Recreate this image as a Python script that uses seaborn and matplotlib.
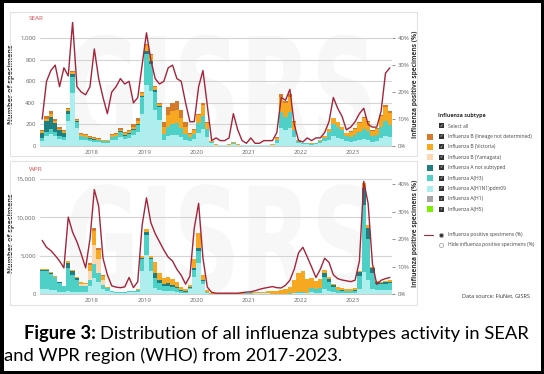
import numpy as np
import pandas as pd
import matplotlib
matplotlib.use('Agg')
import matplotlib.pyplot as plt
from matplotlib.patches import Rectangle, PathPatch
from matplotlib.lines import Line2D
from matplotlib.textpath import TextPath
from matplotlib.font_manager import FontProperties
from matplotlib.transforms import Affine2D
import seaborn as sns

# months Jan 2017 .. Sep 2023, one value per month (rows = years)
months = pd.date_range('2017-01-01', periods=81, freq='MS')

subtypes = ['Influenza B (lineage not determined)', 'Influenza B (Victoria)',
            'Influenza B (Yamagata)', 'Influenza A not subtyped', 'Influenza A(H3)',
            'Influenza A(H1N1)pdm09', 'Influenza A(H1)', 'Influenza A(H5)']
colors = ['#d37a2c', '#f6a821', '#fdd8b2', '#1d7f80', '#4fd0c6',
          '#aeeeee', '#a6a6a6', '#7cf000']

# ---- SEAR ----
sear_b_nd = [15, 25, 25, 20, 15, 15, 10, 10, 10, 12, 11, 9,
             8, 7, 6, 6, 11, 12, 17, 13, 15, 20, 26, 5,
             10, 10, 9, 8, 44, 72, 80, 84, 66, 44, 6, 8,
             15, 20, 11, 0, 0, 0, 0, 0, 0, 0, 0, 0,
             0, 0, 0, 0, 0, 0, 4, 24, 21, 24, 11, 0,
             0, 0, 0, 0, 0, 0, 0, 0, 0, 0, 0, 7,
             8, 11, 13, 12, 8, 8, 15, 19, 16]
sear_b_vic = [10, 25, 25, 20, 15, 15, 15, 20, 10, 12, 11, 9,
              8, 7, 6, 6, 11, 12, 17, 13, 15, 20, 26, 30,
              57, 50, 30, 20, 66, 108, 120, 126, 99, 66, 30, 40,
              75, 100, 55, 10, 3, 2, 2, 3, 7, 3, 2, 2,
              2, 2, 2, 2, 2, 3, 24, 144, 126, 144, 69, 12,
              6, 6, 5, 6, 12, 18, 32, 52, 44, 36, 24, 49,
              60, 77, 95, 80, 52, 60, 101, 133, 112]
sear_a_nst = [55, 100, 110, 80, 50, 35, 25, 30, 10, 6, 5, 5,
              4, 3, 3, 3, 5, 6, 9, 7, 7, 10, 13, 15,
              28, 25, 17, 12, 0, 0, 0, 0, 0, 0, 0, 0,
              0, 0, 0, 0, 0, 0, 0, 0, 0, 0, 0, 0,
              0, 0, 0, 0, 0, 0, 0, 0, 0, 0, 0, 0,
              0, 0, 0, 0, 0, 0, 0, 0, 0, 0, 0, 0,
              0, 0, 0, 0, 0, 0, 0, 0, 0]
sear_h3 = [20, 40, 50, 40, 30, 25, 70, 150, 50, 30, 28, 22,
           20, 18, 15, 15, 28, 30, 42, 32, 38, 50, 65, 150,
           285, 255, 168, 120, 55, 90, 100, 105, 83, 55, 36, 48,
           90, 120, 66, 10, 3, 2, 2, 3, 7, 3, 3, 2,
           3, 2, 2, 3, 3, 3, 24, 144, 126, 144, 70, 18,
           9, 9, 8, 9, 18, 27, 72, 117, 99, 81, 54, 49,
           60, 77, 94, 80, 52, 60, 102, 133, 112]
sear_h1n1 = [50, 90, 110, 90, 65, 60, 230, 490, 170, 60, 55, 45,
             40, 35, 30, 30, 55, 60, 85, 65, 75, 100, 130, 300,
             570, 510, 336, 240, 55, 90, 100, 105, 82, 55, 48, 64,
             120, 160, 88, 30, 9, 6, 6, 9, 21, 9, 7, 6,
             7, 6, 6, 7, 7, 9, 28, 168, 147, 168, 80, 30,
             15, 15, 12, 15, 30, 45, 56, 91, 77, 63, 42, 35,
             42, 55, 68, 58, 38, 42, 72, 95, 80]
sear_pos = [10, 24, 28, 30, 22, 29, 26, 46, 22, 20, 19, 22,
            36, 25, 18, 12, 20, 22, 25, 23, 24, 16, 18, 30,
            42, 32, 25, 23, 24, 29, 30, 25, 24, 16, 9, 9,
            22, 28, 15, 2, 3, 2, 2, 3, 12, 6, 2, 1,
            3, 1, 1, 2, 2, 2, 5, 18, 17, 21, 8, 2,
            1.5, 3, 2, 3, 3, 5, 9, 18, 14, 11, 6, 7,
            9, 12, 14, 8, 7, 7, 13, 27, 29]

# ---- WPR ----
wpr_b_nd = [0, 0, 0, 0, 0, 0, 0, 0, 0, 0, 0, 200,
            430, 300, 125, 0, 0, 0, 0, 0, 0, 0, 0, 0,
            0, 0, 0, 0, 0, 0, 0, 0, 0, 0, 0, 0,
            0, 0, 0, 0, 0, 0, 0, 0, 0, 0, 0, 0,
            0, 0, 0, 0, 0, 0, 0, 0, 0, 0, 0, 0,
            0, 0, 0, 0, 0, 0, 0, 0, 0, 0, 0, 0,
            0, 0, 0, 0, 0, 0, 0, 0, 0]
wpr_b_vic = [165, 165, 145, 120, 80, 55, 215, 155, 110, 150, 140, 800,
             1720, 1200, 500, 180, 90, 64, 60, 60, 90, 90, 120, 250,
             425, 250, 1470, 980, 735, 770, 665, 525, 315, 210, 300, 1125,
             2000, 625, 300, 90, 72, 66, 66, 66, 72, 78, 90, 108,
             120, 132, 150, 180, 210, 360, 405, 450, 540, 810, 1620, 2430,
             2700, 1710, 1230, 1020, 1140, 310, 220, 130, 315, 262, 245, 245,
             262, 150, 725, 450, 175, 170, 160, 170, 180]
wpr_b_yam = [0, 0, 0, 0, 0, 0, 0, 0, 0, 300, 280, 1200,
             2580, 1800, 750, 0, 0, 0, 0, 0, 0, 0, 0, 0,
             0, 0, 0, 0, 0, 0, 0, 0, 0, 0, 0, 0,
             0, 0, 0, 0, 0, 0, 0, 0, 0, 0, 0, 0,
             0, 0, 0, 0, 0, 0, 0, 0, 0, 0, 0, 0,
             0, 0, 0, 0, 0, 0, 0, 0, 0, 0, 0, 0,
             0, 0, 0, 0, 0, 0, 0, 0, 0]
wpr_a_nst = [165, 165, 145, 120, 80, 55, 645, 465, 330, 0, 0, 0,
             0, 0, 0, 0, 0, 0, 0, 0, 0, 0, 0, 250,
             425, 250, 630, 420, 315, 330, 285, 225, 135, 90, 60, 225,
             400, 125, 0, 0, 0, 0, 0, 0, 0, 0, 0, 0,
             0, 0, 0, 0, 0, 0, 0, 0, 0, 0, 0, 0,
             0, 0, 0, 0, 0, 620, 440, 260, 45, 38, 35, 35,
             38, 450, 2175, 1350, 525, 170, 160, 170, 180]
wpr_h3 = [2310, 2310, 2030, 1680, 1120, 770, 3010, 2170, 1540, 750, 700, 800,
          1720, 1200, 500, 270, 135, 96, 90, 90, 135, 135, 180, 1500,
          2550, 1500, 1260, 840, 630, 660, 570, 450, 270, 180, 240, 900,
          1600, 500, 50, 15, 12, 11, 11, 11, 12, 13, 15, 18,
          20, 22, 25, 30, 35, 20, 23, 25, 30, 45, 90, 135,
          150, 95, 615, 510, 570, 1550, 1100, 650, 360, 300, 280, 280,
          300, 1800, 8700, 5400, 2100, 850, 800, 850, 900]
wpr_h1n1 = [660, 660, 580, 480, 320, 220, 430, 310, 220, 300, 280, 1000,
            2150, 1500, 625, 450, 225, 160, 150, 150, 225, 225, 300, 3000,
            5100, 3000, 840, 560, 420, 440, 380, 300, 180, 120, 600, 2250,
            4000, 1250, 150, 45, 36, 33, 33, 33, 36, 39, 45, 54,
            60, 66, 75, 90, 105, 20, 22, 25, 30, 45, 90, 135,
            150, 95, 205, 170, 190, 620, 440, 260, 180, 150, 140, 140,
            150, 600, 2900, 1800, 700, 510, 480, 510, 540]
wpr_pos = [19.5, 17, 15.8, 14, 12, 9.5, 28, 22.5, 19, 14.5, 9.5, 20,
           38, 32, 13, 7, 3, 2.5, 2.3, 2.6, 6, 2.3, 4.5, 25,
           35, 26, 22, 19, 16, 13.4, 12, 9, 6.8, 3.6, 6.5, 24,
           33, 13, 2.5, 0.6, 0.3, 0.3, 0.3, 0.3, 0.3, 0.3, 0.5, 0.7,
           0.8, 1.2, 1.7, 2.1, 2.4, 2.7, 2.3, 2.2, 3.2, 5, 9, 15,
           17, 13.5, 9.8, 6, 9, 13, 11.5, 7, 5.6, 5.1, 4.8, 4.5,
           5, 12, 41, 33, 11, 3.5, 5, 5.6, 6]

line_color = '#a3243b'
palette = dict(zip(subtypes, colors))

# decimal-year position of each month (mid-month) and monthly bin edges
t = (months.year + (months.month - 0.5) / 12).values
edges = (2017 + np.arange(82) / 12).tolist()


def long_table(series):
    frames = []
    for name, vals in series.items():
        frames.append(pd.DataFrame({'t': t, 'n': vals, 'subtype': name}))
    return pd.concat(frames, ignore_index=True)


sear = long_table({subtypes[0]: sear_b_nd, subtypes[1]: sear_b_vic,
                   subtypes[3]: sear_a_nst, subtypes[4]: sear_h3,
                   subtypes[5]: sear_h1n1})
wpr = long_table({subtypes[0]: wpr_b_nd, subtypes[1]: wpr_b_vic,
                  subtypes[2]: wpr_b_yam, subtypes[3]: wpr_a_nst,
                  subtypes[4]: wpr_h3, subtypes[5]: wpr_h1n1})

W, H = 544, 374
def fx(px):
    return px / W
def fy(py):
    return 1 - py / H

sns.set_theme(style='white')
plt.rcParams['font.family'] = ['Open Sans', 'DejaVu Sans']

fig = plt.figure(figsize=(W / 100, H / 100), dpi=100)
fig.patch.set_facecolor('black')
fig.add_artist(Rectangle((fx(4), fy(371)), fx(541) - fx(4), fy(3) - fy(371),
                         transform=fig.transFigure, facecolor='white',
                         edgecolor='none', zorder=-10))
for top, bot in [(12, 156), (161, 305)]:
    fig.add_artist(Rectangle((fx(10), fy(bot)), fx(417) - fx(10), fy(top) - fy(bot),
                             transform=fig.transFigure, fill=False,
                             edgecolor='#e2e2e2', lw=0.8))

tick_font = 4.4
tick_col = '#666666'


def draw_panel(top, bot, df, pos, ymax, yticks, pmax, region):
    ax = fig.add_axes([fx(40), fy(bot), fx(392) - fx(40), fy(top) - fy(bot)])
    # very faint watermark
    tp = TextPath((0, 0), 'GISRS', size=1,
                  prop=FontProperties(family='DejaVu Sans', weight='bold'))
    ext = tp.get_extents()
    tr = (Affine2D().translate(-ext.x0, -ext.y0)
          .scale(0.86 / ext.width, 0.9 / ext.height).translate(0.08, 0.0)
          + ax.transAxes)
    ax.add_patch(PathPatch(tp, transform=tr, fc='#f7f7f7', ec='none', zorder=0))

    sns.histplot(data=df, x='t', weights='n', hue='subtype',
                 hue_order=[s for s in subtypes if s in set(df['subtype'])],
                 palette=palette, multiple='stack', bins=edges, element='step',
                 alpha=1, linewidth=0, legend=False, ax=ax, zorder=2)
    ax.set_xlim(edges[0], edges[-1])
    ax.set_ylim(0, ymax)
    ax.set_axisbelow(True)
    ax.set_yticks(yticks)
    ax.set_yticklabels([f'{v:,}' for v in yticks])
    ax.yaxis.grid(True, color='#d4d4d4', lw=0.8)
    ax.xaxis.grid(False)
    ax.set_xticks(range(2018, 2024))
    ax.set_xticklabels([str(y) for y in range(2018, 2024)])
    ax.tick_params(labelsize=tick_font, colors=tick_col, length=0, pad=3)
    for s in ['left', 'right', 'top']:
        ax.spines[s].set_visible(False)
    ax.spines['bottom'].set_color('#cccccc')
    ax.spines['bottom'].set_linewidth(0.8)
    ax.set_xlabel('')
    ax.set_ylabel('Number of specimens', fontsize=5.2, fontweight='bold', color='#333333')
    ax.yaxis.set_label_coords(-0.071, 0.5)
    ax.text(-0.031, (bot - top + 3) / (bot - top), region, transform=ax.transAxes,
            fontsize=4.6, color='#e0474c', ha='left', va='center')

    ax2 = ax.twinx()
    sns.lineplot(x=t, y=pos, ax=ax2, color=line_color, lw=1.0)
    ax2.set_ylim(0, pmax)
    ax2.set_yticks([0, 10, 20, 30, 40])
    ax2.set_yticklabels(['0%', '10%', '20%', '30%', '40%'])
    ax2.tick_params(labelsize=tick_font, colors=tick_col, length=2, width=0.5, pad=2)
    for s in ax2.spines.values():
        s.set_visible(False)
    ax2.grid(False)
    ax2.set_ylabel('Influenza positive specimens (%)', fontsize=4.8,
                   fontweight='bold', color='#333333')
    ax2.yaxis.set_label_coords(1.057, 0.5)
    return ax


draw_panel(22, 146, sear, sear_pos, 1150, [0, 200, 400, 600, 800, 1000], 46, 'SEAR')
draw_panel(172, 294, wpr, wpr_pos, 15900, [0, 5000, 10000, 15000], 44.4, 'WPR')

# ---- legend (drawn by hand to mimic the web widget) ----
leg_font = 3.6
fig.text(fx(438), fy(116), 'Influenza subtype', fontsize=3.9, fontweight='bold',
         color='#333333', va='center')


def checkbox(y):
    fig.add_artist(Rectangle((fx(439), fy(y + 2.5)), 5 / W, 5 / H, transform=fig.transFigure,
                             facecolor='#333333', edgecolor='none'))
    fig.text(fx(441.5), fy(y), '\u2713', fontsize=3, color='white',
             ha='center', va='center', family='DejaVu Sans')


checkbox(126)
fig.text(fx(448), fy(126), 'Select all', fontsize=leg_font, color='#444444', va='center')
for i, (name, col) in enumerate(zip(subtypes, colors)):
    y = 136.5 + 10.4 * i
    fig.add_artist(Rectangle((fx(427), fy(y + 3)), 6 / W, 6 / H, transform=fig.transFigure,
                             facecolor=col, edgecolor='none'))
    checkbox(y)
    fig.text(fx(448), fy(y), name, fontsize=leg_font, color='#444444', va='center')

fig.add_artist(Line2D([fx(424), fx(433)], [fy(235), fy(235)], color=line_color,
                      lw=0.8, transform=fig.transFigure))
fig.add_artist(Line2D([fx(441)], [fy(235)], marker='o', ms=3, mfc='#333333',
                      mec='#aaaaaa', mew=0.6, transform=fig.transFigure))
fig.text(fx(448), fy(235), 'Influenza positive specimens (%)', fontsize=leg_font,
         color='#444444', va='center')
fig.add_artist(Line2D([fx(441)], [fy(245)], marker='o', ms=3, mfc='white',
                      mec='#aaaaaa', mew=0.6, transform=fig.transFigure))
fig.text(fx(448), fy(245), 'Hide influenza positive specimens (%)', fontsize=leg_font,
         color='#444444', va='center')
fig.text(fx(530), fy(296), 'Data source: FluNet, GISRS', fontsize=4.0,
         color='#333333', ha='right', va='center')

# ---- caption ----
cap_font = ['Lato', 'DejaVu Sans']
cap_size = 13.2
b = fig.text(fx(24), fy(339), 'Figure 3:', fontsize=cap_size, fontweight='bold',
             family=cap_font, color='black', va='baseline')
renderer = fig.canvas.get_renderer()
bb = b.get_window_extent(renderer=renderer)
fig.text(bb.x1 / W + fx(4), fy(339),
         'Distribution of all influenza subtypes activity in SEAR',
         fontsize=cap_size, family=cap_font, color='black', va='baseline')
fig.text(fx(4.5), fy(361), 'and WPR region (WHO) from 2017-2023.', fontsize=cap_size,
         family=cap_font, color='black', va='baseline')

fig.savefig('out.png', dpi=100, facecolor=fig.get_facecolor())
